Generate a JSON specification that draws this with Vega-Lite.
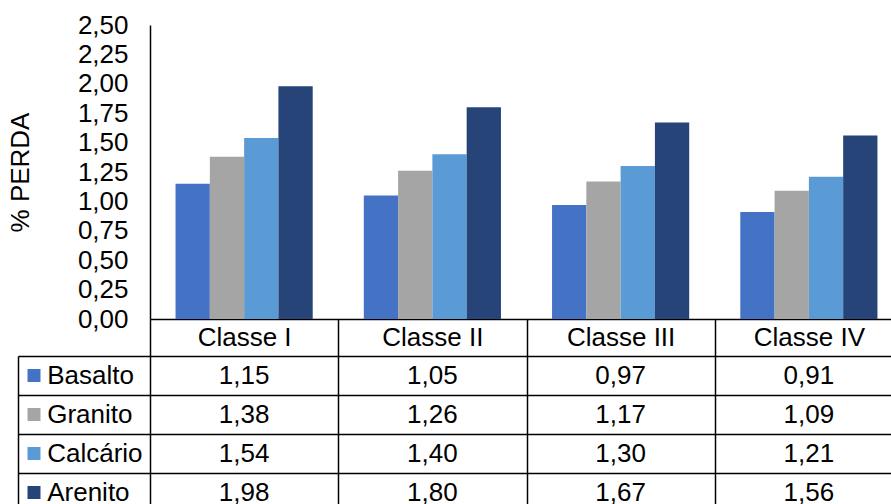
{
  "$schema": "https://vega.github.io/schema/vega-lite/v6.json",
  "description": "Perda (%) por classe e tipo de agregado, com tabela de dados sob o gráfico",
  "background": "white",
  "padding": {"left": 7, "top": 12, "right": 0, "bottom": 0},
  "datasets": {
    "perdas": [
      {"classe": "Classe I", "material": "Basalto", "perda": 1.15},
      {"classe": "Classe I", "material": "Granito", "perda": 1.38},
      {"classe": "Classe I", "material": "Calcário", "perda": 1.54},
      {"classe": "Classe I", "material": "Arenito", "perda": 1.98},
      {"classe": "Classe II", "material": "Basalto", "perda": 1.05},
      {"classe": "Classe II", "material": "Granito", "perda": 1.26},
      {"classe": "Classe II", "material": "Calcário", "perda": 1.40},
      {"classe": "Classe II", "material": "Arenito", "perda": 1.80},
      {"classe": "Classe III", "material": "Basalto", "perda": 0.97},
      {"classe": "Classe III", "material": "Granito", "perda": 1.17},
      {"classe": "Classe III", "material": "Calcário", "perda": 1.30},
      {"classe": "Classe III", "material": "Arenito", "perda": 1.67},
      {"classe": "Classe IV", "material": "Basalto", "perda": 0.91},
      {"classe": "Classe IV", "material": "Granito", "perda": 1.09},
      {"classe": "Classe IV", "material": "Calcário", "perda": 1.21},
      {"classe": "Classe IV", "material": "Arenito", "perda": 1.56}
    ]
  },
  "data": {"name": "perdas"},
  "bounds": "flush",
  "spacing": 37,
  "vconcat": [
    {
      "width": 745,
      "height": 294,
      "mark": {"type": "bar"},
      "encoding": {
        "x": {
          "field": "classe",
          "type": "nominal",
          "sort": ["Classe I", "Classe II", "Classe III", "Classe IV"],
          "scale": {"range": [0, 753], "paddingInner": 0, "paddingOuter": 0},
          "axis": {
            "title": null,
            "orient": "bottom",
            "domain": true,
            "domainColor": "#000000",
            "domainWidth": 1.5,
            "ticks": true,
            "tickOffset": -94.125,
            "tickSize": 37,
            "tickColor": "#000000",
            "tickWidth": 1.5,
            "grid": false,
            "labelAngle": 0,
            "labelOffset": 94.125,
            "labelBaseline": "middle",
            "labelPadding": -18.5,
            "labelOverlap": false,
            "labelBound": false,
            "labelFlush": false
          }
        },
        "xOffset": {
          "field": "material",
          "type": "nominal",
          "sort": ["Basalto", "Granito", "Calcário", "Arenito"],
          "scale": {"paddingInner": 0, "paddingOuter": 0.745}
        },
        "y": {
          "field": "perda",
          "type": "quantitative",
          "scale": {"domain": [0, 2.5], "nice": false, "zero": true},
          "axis": {
            "title": "% PERDA",
            "values": [0, 0.25, 0.5, 0.75, 1, 1.25, 1.5, 1.75, 2, 2.25, 2.5],
            "format": ".2f",
            "ticks": false,
            "tickSize": 0,
            "labelPadding": 22,
            "grid": false,
            "domainColor": "#000000",
            "domainWidth": 1.5,
            "titlePadding": 44,
            "labelOverlap": false,
            "labelFlush": false
          }
        },
        "color": {
          "field": "material",
          "type": "nominal",
          "scale": {
            "domain": ["Basalto", "Granito", "Calcário", "Arenito"],
            "range": ["#4472C4", "#A5A5A5", "#5B9BD5", "#264478"]
          },
          "legend": null
        }
      }
    },
    {
      "width": 745,
      "height": 156,
      "resolve": {"axis": {"y": "independent"}},
      "layer": [
        {
          "mark": {"type": "text", "fontSize": 26, "color": "#000000"},
          "encoding": {
            "x": {
              "field": "classe",
              "type": "nominal",
              "sort": ["Classe I", "Classe II", "Classe III", "Classe IV"],
              "scale": {"range": [0, 753], "paddingInner": 0, "paddingOuter": 0},
              "axis": {
                "title": null,
                "labels": false,
                "ticks": false,
                "domain": false,
                "grid": true,
                "tickOffset": -94.125,
                "gridColor": "#000000",
                "gridWidth": 1.5,
                "gridOpacity": 1
              }
            },
            "y": {
              "field": "material",
              "type": "nominal",
              "sort": ["Basalto", "Granito", "Calcário", "Arenito"],
              "scale": {"paddingInner": 0, "paddingOuter": 0},
              "axis": {
                "title": null,
                "orient": "left",
                "domain": false,
                "ticks": true,
                "tickBand": "extent",
                "tickSize": 132,
                "tickColor": "#000000",
                "tickWidth": 1.5,
                "grid": true,
                "gridColor": "#000000",
                "gridWidth": 1.5,
                "gridOpacity": 1,
                "labelAlign": "left",
                "labelBaseline": "middle",
                "labelPadding": -28.7,
                "labelOverlap": false,
                "labelBound": false
              }
            },
            "text": {"field": "perda", "type": "quantitative", "format": ".2f"}
          }
        },
        {
          "mark": {"type": "tick", "opacity": 0},
          "encoding": {
            "y": {
              "field": "material",
              "type": "nominal",
              "sort": ["Basalto", "Granito", "Calcário", "Arenito"],
              "axis": {
                "title": null,
                "orient": "left",
                "offset": 110,
                "domain": false,
                "grid": false,
                "labels": false,
                "ticks": true,
                "tickSize": 13,
                "tickWidth": 13,
                "tickCap": "butt",
                "tickColor": {
                  "condition": [
                    {"test": "datum.value === 'Basalto'", "value": "#4472C4"},
                    {"test": "datum.value === 'Granito'", "value": "#A5A5A5"},
                    {"test": "datum.value === 'Calcário'", "value": "#5B9BD5"}
                  ],
                  "value": "#264478"
                }
              }
            }
          }
        },
        {
          "mark": {"type": "tick", "opacity": 0},
          "encoding": {
            "y": {
              "field": "material",
              "type": "nominal",
              "sort": ["Basalto", "Granito", "Calcário", "Arenito"],
              "axis": {
                "title": null,
                "orient": "left",
                "offset": 132,
                "domain": true,
                "domainColor": "#000000",
                "domainWidth": 1.5,
                "ticks": false,
                "labels": false,
                "grid": false
              }
            }
          }
        }
      ]
    }
  ],
  "config": {
    "view": {"stroke": null},
    "font": "Liberation Sans",
    "locale": {
      "number": {"decimal": ",", "thousands": ".", "grouping": [3], "currency": ["R$ ", ""]}
    },
    "axis": {
      "labelFont": "Liberation Sans",
      "labelFontSize": 26,
      "labelColor": "#000000",
      "titleFont": "Liberation Sans",
      "titleFontSize": 26,
      "titleFontWeight": "normal",
      "titleColor": "#000000"
    },
    "text": {"font": "Liberation Sans"}
  }
}
